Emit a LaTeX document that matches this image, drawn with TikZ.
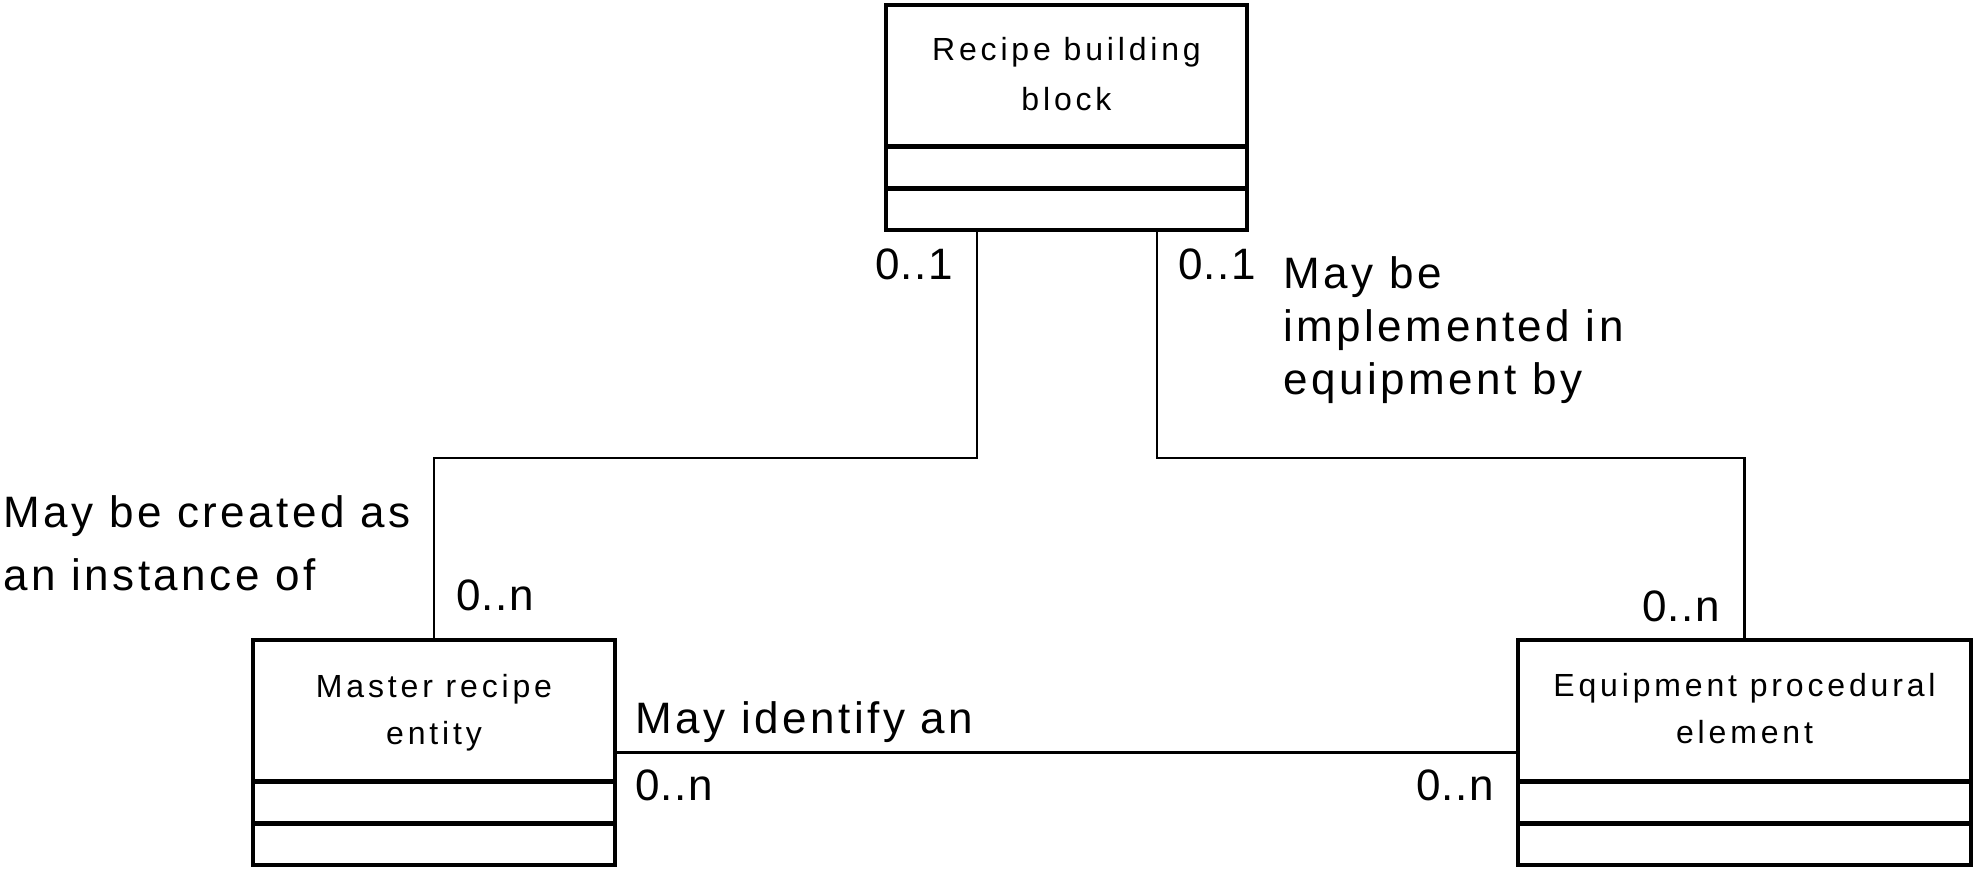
\documentclass[tikz,border=0pt]{standalone}
\usepackage{fontspec}
\setmainfont{Liberation Sans}
\newfontfamily\lblfont[LetterSpace=8]{Liberation Sans}
\newfontfamily\boxfont[LetterSpace=12]{Liberation Sans}
\newfontfamily\numfont[LetterSpace=3]{Liberation Sans}
\begin{document}
\begin{tikzpicture}[x=1pt,y=-1pt,
  classbox/.style={draw, line width=3.2pt, minimum height=225pt, anchor=north west, inner sep=0pt, outer sep=0pt},
  sepline/.style={line width=5pt},
  conn/.style={line width=2.8pt},
  boxtext/.style={font=\boxfont\fontsize{32}{47}\selectfont, align=center, inner sep=0pt, anchor=base},
  lbl/.style={font=\lblfont\fontsize{44}{53}\selectfont, align=left, inner sep=0pt, anchor=base west},
  num/.style={font=\numfont\fontsize{44}{53}\selectfont, inner sep=0pt, anchor=base west}]
\useasboundingbox (0,0) rectangle (1975,870);
% class boxes
\node[classbox, minimum width=361pt] (rbb) at (886,5) {};
\node[classbox, minimum width=362pt] (mre) at (253,640) {};
\node[classbox, minimum width=453pt] (epe) at (1518,640) {};
\foreach \b in {rbb,mre,epe}{
  \draw[sepline] ([yshift=-141.5pt]\b.north west) -- ([yshift=-141.5pt]\b.north east);
  \draw[sepline] ([yshift=-183pt]\b.north west) -- ([yshift=-183pt]\b.north east);
}
% box texts (anchor = baseline of last line)
\node[boxtext, font=\boxfont\fontsize{32}{50}\selectfont] (trbb) at (1066.5,110) {Recipe building\\block};
\node[boxtext] (tmre) at (434,744) {Master recipe\\entity};
\node[boxtext] (tepe) at (1744.5,743) {Equipment procedural\\element};
% connectors
\coordinate (jl) at (977,458);
\coordinate (jr) at (1157,458);
\draw[conn] (rbb.south -| jl) -- (jl) -| (mre.north);
\draw[conn] (rbb.south -| jr) -- (jr) -| (epe.north);
\draw[conn] (mre.east) -- (epe.west);
% multiplicities
\node[num] (m1) at (875,279) {0..1};
\node[num] (m2) at (1178,279) {0..1};
\node[num] (m3) at (456,610) {0..n};
\node[num] (m4) at (1642,621) {0..n};
\node[num] (m5) at (635,800) {0..n};
\node[num] (m6) at (1416,800) {0..n};
% role labels (anchor = baseline of last line)
\node[lbl] (l1) at (1283,394) {May be\\implemented in\\equipment by};
\node[lbl, font=\lblfont\fontsize{44}{63}\selectfont] (l2) at (3,590) {May be created as\\an instance of};
\node[lbl] (l3) at (635,733) {May identify an};
\end{tikzpicture}
\end{document}
